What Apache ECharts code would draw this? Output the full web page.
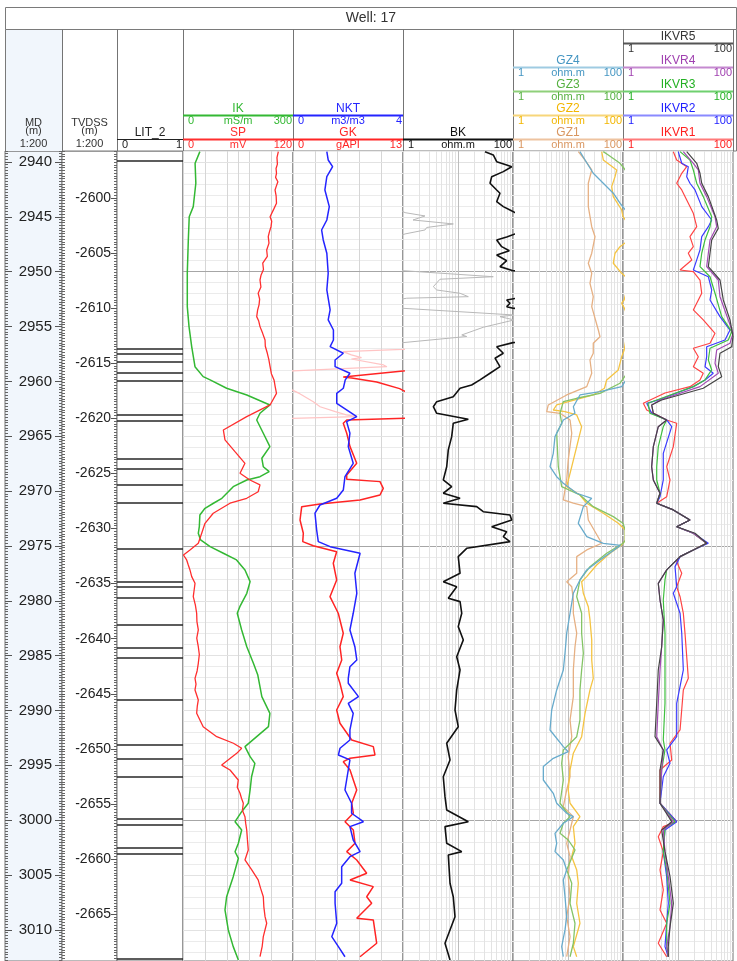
<!DOCTYPE html>
<html>
<head>
<meta charset="utf-8">
<title>Well: 17</title>
<script src="https://cdn.jsdelivr.net/npm/echarts@6/dist/echarts.min.js"></script>
<style>
  html, body { margin: 0; padding: 0; background: #fff; }
  #chart { width: 737px; height: 961px; }
</style>
</head>
<body>
<div id="chart"></div>
<script>
// depth axis (MD, m) and TVDSS
const MD_MIN = 2939, MD_MAX = 3012.84;
const TVD_MIN = -2669.25, TVD_MAX = -2595.75;
const mdLabels = [2940, 2945, 2950, 2955, 2960, 2965, 2970, 2975, 2980, 2985, 2990, 2995, 3000, 3005, 3010];
const tvdLabels = [-2600, -2605, -2610, -2615, -2620, -2625, -2630, -2635, -2640, -2645, -2650, -2655, -2660, -2665];
const depthLines25 = [2950, 2975, 3000];
const depthLines5 = [2940, 2945, 2955, 2960, 2965, 2970, 2980, 2985, 2990, 2995, 3005, 3010];
const logMinor = [2, 3, 4, 5, 6, 7, 8, 9, 20, 30, 40, 50, 60, 70, 80, 90];

// LIT_2 boundaries (MD)
const litBounds = [2939.91, 2957.05, 2957.50, 2958.23, 2959.23, 2959.96, 2963.06, 2963.61, 2967.07, 2967.98,
  2969.44, 2971.09, 2975.23, 2978.24, 2978.74, 2979.75, 2982.21, 2984.31, 2985.22, 2989.05, 2993.10,
  2994.38, 2996.07, 2999.89, 3000.44, 3002.56, 3003.08, 3012.66];

// curves: [MD, value]
const IK = [[2939.06,46],[2940.12,33],[2941.94,35],[2944.07,28],[2944.99,17],[2947.11,14.5],[2950.12,11.7],[2953.19,11.7],[2955.01,16.4],[2956.84,23.7],[2958.66,32.7],[2959.57,55],[2959.87,74],[2960.63,119],[2961.24,174],[2962.15,237],[2962.91,210],[2963.52,201],[2964.73,219],[2965.95,237],[2967.01,215],[2967.78,219],[2968.23,235],[2968.69,210],[2968.99,174],[2969.60,137],[2970.66,106],[2971.11,83],[2971.57,60],[2972.18,46],[2973.25,44.5],[2973.85,41.7],[2974.46,48],[2975.07,74],[2975.67,110],[2976.28,146],[2977.19,169],[2978.26,183],[2979.32,174],[2980.54,155],[2981.14,148],[2982.66,160],[2984.19,174],[2985.70,192],[2986.77,204],[2988.74,215],[2990.26,237],[2991.48,233],[2992.39,201],[2993.30,169],[2994.21,183],[2994.82,196],[2996.04,187],[2997.25,183],[2998.46,178],[2999.23,160],[3000.14,142],[3000.90,160],[3002.11,151],[3002.88,142],[3003.48,151],[3005.15,137],[3006.98,119],[3008.19,114.5],[3010.01,123.5],[3011.53,137],[3012.75,151]];
const SP = [[2939.06,104],[2939.6,102.5],[2940.2,103],[2940.6,101.5],[2941.03,102],[2941.4,101],[2941.8,103.5],[2942.2,101.8],[2942.55,100.4],[2943.1,101.6],[2943.76,102],[2944.3,99],[2944.99,95],[2945.4,96.8],[2945.9,96],[2946.4,94.2],[2946.81,93],[2947.4,93.8],[2948.02,91.3],[2948.6,92],[2949.23,87],[2949.8,87.8],[2950.3,85.2],[2950.76,84],[2951.4,85],[2951.97,82],[2952.5,83.6],[2953.0,83],[2953.5,81.4],[2954.10,80.4],[2954.5,82.6],[2955.01,84],[2955.6,86.8],[2956.23,89.5],[2956.8,89.8],[2957.44,92],[2958.0,93.6],[2958.66,95],[2959.3,96.4],[2959.87,99.3],[2960.5,100.6],[2961.09,102],[2962.15,95],[2963.22,69.5],[2964.43,44],[2965.34,45.8],[2966.41,56.7],[2967.47,67.6],[2968.38,62.2],[2968.99,73],[2969.44,84],[2970.06,82],[2970.66,69.5],[2971.11,51.3],[2972.02,33],[2972.94,24],[2973.85,20.4],[2974.76,16.7],[2975.37,7.6],[2975.83,0.5],[2976.28,4],[2976.7,5.6],[2977.19,7.6],[2977.8,9.5],[2978.41,13.1],[2979.0,12.2],[2979.63,11.2],[2980.4,13.5],[2981.14,14.9],[2981.9,15.2],[2982.66,16.7],[2983.4,15],[2984.19,16.7],[2984.9,17.8],[2985.70,16.7],[2986.4,15.4],[2987.07,13.1],[2987.6,14.2],[2988.13,13.1],[2989.04,16.7],[2989.6,15.6],[2990.26,14.9],[2991.48,22],[2992.39,36.8],[2992.99,55],[2993.45,64],[2993.91,58.6],[2994.98,42.2],[2995.43,51.3],[2996.34,60.3],[2997.0,59.2],[2997.55,62.2],[2998.0,63.8],[2998.46,65.8],[2999.1,64.8],[2999.68,67.6],[3000.3,68.4],[3000.90,69.5],[3001.8,70.3],[3002.72,71.2],[3003.63,67.6],[3004.54,75],[3005.45,82],[3006.2,84.6],[3006.98,87.6],[3007.9,88.2],[3008.80,89.5],[3009.40,91.3],[3010.62,87.6],[3011.5,86.4],[3012.45,84]];
const NKT = [[2939.06,1.23],[2939.82,1.28],[2940.43,1.44],[2941.34,1.23],[2942.55,1.16],[2944.07,1.32],[2945.29,1.23],[2946.20,1.04],[2947.11,1.10],[2948.32,1.23],[2950.15,1.28],[2951.67,1.23],[2953.49,1.35],[2954.40,1.28],[2955.32,1.47],[2956.23,1.47],[2956.84,1.35],[2957.44,1.83],[2958.05,1.53],[2958.66,1.53],[2959.26,2.07],[2959.87,1.90],[2960.63,1.83],[2961.09,1.59],[2962.00,1.59],[2963.22,2.32],[2963.67,1.95],[2964.73,2.07],[2965.95,2.01],[2967.47,2.19],[2968.69,1.89],[2969.90,1.83],[2970.66,1.59],[2971.27,0.98],[2972.02,0.80],[2973.55,0.86],[2974.61,0.92],[2975.07,1.35],[2975.67,2.44],[2977.49,2.25],[2979.32,2.32],[2981.14,2.19],[2982.66,2.07],[2984.19,2.25],[2985.40,2.32],[2986.01,2.07],[2987.07,2.01],[2987.52,2.01],[2988.74,2.38],[2989.35,2.01],[2990.26,2.19],[2991.78,2.07],[2992.69,2.07],[2993.45,1.71],[2994.06,1.65],[2994.51,2.07],[2996.34,1.95],[2997.25,1.89],[2998.46,2.13],[2999.37,2.13],[3000.14,2.56],[3000.59,2.07],[3001.81,2.19],[3002.87,2.44],[3003.33,2.07],[3004.24,1.77],[3005.75,1.77],[3006.52,1.53],[3007.58,1.53],[3009.40,1.59],[3010.62,1.41],[3011.53,1.65],[3012.45,1.89]];
const GK = [[2939.06,30],[2956.96,30],[2957.09,26],[2957.29,18.9],[2957.59,19.9],[2957.84,21.1],[2957.96,19.9],[2958.50,23.7],[2958.66,24.1],[2959.05,13.0],[2959.60,5.94],[2959.69,6.94],[2960.06,9.89],[2960.66,12.6],[2960.82,13.0],[2961.12,13.8],[2961.85,15.4],[2962.31,16.2],[2962.76,18.0],[2963.06,19.3],[2963.22,20.5],[2963.52,6.35],[2963.82,5.94],[2964.73,6.35],[2965.95,6.74],[2967.47,7.53],[2968.53,6.35],[2968.93,6.35],[2969.14,10.28],[2969.75,10.67],[2970.36,10.28],[2970.81,7.92],[2971.18,3.19],[2971.42,1.03],[2972.64,0.83],[2973.85,1.22],[2974.61,1.15],[2974.98,2.40],[2975.53,5.16],[2976.58,4.76],[2978.10,5.16],[2979.63,4.37],[2981.14,5.35],[2982.96,5.94],[2984.19,5.55],[2985.40,5.76],[2986.61,5.16],[2987.52,5.55],[2988.74,5.94],[2989.96,5.16],[2991.17,5.55],[2992.69,6.94],[2993.30,9.49],[2994.06,9.69],[2994.36,6.74],[2994.67,5.94],[2995.43,6.74],[2996.34,7.13],[2997.25,7.53],[2998.46,6.94],[2999.37,7.13],[3000.14,6.15],[3000.90,7.13],[3002.11,7.33],[3002.87,6.35],[3003.63,7.53],[3004.84,8.71],[3005.45,6.74],[3006.06,9.49],[3006.98,8.71],[3007.58,9.30],[3008.95,7.53],[3009.10,9.49],[3011.22,9.89],[3012.45,7.92]];
const BK = [[2939.06,31],[2939.36,43.8],[2939.97,50.5],[2940.27,76.8],[2940.43,94.7],[2940.88,66.6],[2941.34,41],[2941.94,38.2],[2942.55,50.5],[2942.85,58],[2943.62,50.5],[2944.07,66.6],[2944.38,88.2],[2944.62,109],[2944.92,251],[2945.29,152],[2945.65,822],[2945.97,270],[2946.20,251],[2946.56,109],[2946.84,76.8],[2947.11,50.5],[2947.72,62.3],[2948.09,85.7],[2948.48,50.5],[2949.00,76.8],[2949.54,58],[2949.91,100],[2950.46,4380],[2950.69,470],[2951.37,356],[2951.67,410],[2951.97,1090],[2952.28,1540],[2952.42,117],[2952.58,76.8],[2952.88,88.2],[2953.19,76.8],[2953.34,100],[2953.95,10500],[2954.10,5800],[2954.40,10500],[2955.07,2880],[2955.77,1170],[2955.91,1440],[2956.47,100],[2956.84,50.5],[2957.44,66.6],[2957.89,47.1],[2958.66,58],[2959.26,38.2],[2959.87,25.1],[2960.33,17.7],[2960.63,10.9],[2961.40,8.2],[2961.85,4.1],[2962.31,3.56],[2962.91,4.1],[2963.46,15.4],[2963.82,8.2],[2965.04,7.68],[2966.25,6.66],[2967.78,6.23],[2968.99,5.4],[2969.60,7.68],[2970.20,5.4],[2970.66,10.9],[2971.11,5.4],[2971.42,21.9],[2971.88,28.8],[2972.18,88.2],[2972.64,94.7],[2973.25,41],[2973.70,76.8],[2974.16,66.6],[2974.61,88.2],[2975.22,14.4],[2975.98,10.1],[2977.49,10.9],[2978.26,5.4],[2978.72,9.47],[2979.77,6.66],[2980.08,10.9],[2981.14,11.7],[2982.36,10.1],[2983.57,12.5],[2985.10,9.47],[2986.31,10.9],[2988.13,9.47],[2989.96,8.82],[2991.48,10.1],[2992.99,6.23],[2994.51,7.16],[2996.04,5.4],[2997.86,5.8],[2999.07,6.23],[3000.14,15.4],[3000.59,5.8],[3002.11,6.23],[3002.87,11.7],[3003.17,6.66],[3005.75,7.16],[3006.98,8.2],[3008.80,8.82],[3011.22,5.8],[3012.75,7.16]];
const GZ1 = [[2939.06,15.4],[2939.82,20.4],[2940.73,27],[2941.94,23.4],[2944.07,23.4],[2945.90,27],[2946.81,31],[2948.32,27],[2949.23,23.4],[2950.15,27],[2951.06,25.1],[2952.28,28.8],[2953.19,27],[2955.32,35.6],[2955.93,38.2],[2956.53,28.8],[2957.44,28.8],[2958.05,25.1],[2959.26,27],[2960.48,21.9],[2961.24,9.47],[2962.15,4.38],[2962.76,4.1],[2962.91,7.16],[2963.52,10.9],[2964.73,11.7],[2967.17,10.1],[2968.99,9.47],[2970.81,8.22],[2971.11,12.5],[2971.42,21.9],[2972.64,23.4],[2974.76,41],[2975.37,21.9],[2975.98,14.4],[2977.49,14.4],[2978.26,9.47],[2978.72,11.7],[2979.93,12.5],[2981.14,12.5],[2982.96,14.4],[2984.19,13.4],[2986.31,12.5],[2988.74,12.5],[2990.87,10.9],[2992.39,11.7],[2994.21,10.1],[2996.04,10.9],[2997.25,9.47],[2998.77,8.22],[2999.68,12.5],[3000.90,10.9],[3002.11,9.47],[3003.33,10.9],[3005.15,10.1],[3006.98,10.9],[3008.80,9.47],[3010.62,10.9],[3012.45,9.47]];
const GZ2 = [[2939.06,41],[2939.82,43.8],[2940.73,76.8],[2941.34,71.6],[2942.25,62.3],[2943.16,66.6],[2944.38,94.7],[2944.99,100],[2945.74,130],[2947.11,130],[2947.72,88.2],[2948.32,71.6],[2949.23,66.6],[2950.15,94.7],[2950.76,130],[2952.58,105],[2952.88,94.7],[2953.30,105],[2954.40,130],[2957.14,105],[2957.75,94.7],[2958.96,82.2],[2959.87,50.5],[2960.63,46],[2961.24,28.8],[2962.15,6.23],[2962.61,5.4],[2962.76,8.82],[2963.06,14.4],[2964.13,17.7],[2965.95,14.4],[2967.78,11.7],[2969.60,9.47],[2970.36,16.5],[2971.11,21.9],[2972.02,43.8],[2972.94,82.2],[2973.55,110],[2974.50,110],[2974.91,94.7],[2975.67,58],[2976.74,33.2],[2977.80,21.9],[2978.26,17.7],[2979.32,19],[2980.54,23.4],[2981.75,25.1],[2983.57,27],[2985.40,27],[2987.07,28.8],[2988.13,25.1],[2990.26,20.4],[2992.39,17.7],[2993.90,12.5],[2995.43,10.9],[2997.25,10.1],[2998.46,10.9],[2999.68,16.5],[3000.59,12.5],[3002.11,13.4],[3003.33,11.7],[3004.54,14.4],[3005.75,15.4],[3007.58,14.4],[3009.40,16.5],[3011.53,12.5],[3012.45,14.4]];
const GZ3 = [[2939.06,43.8],[2939.36,54],[2940.12,88.2],[2940.46,100],[2941.20,130],[2958.96,130],[2960.17,88.2],[2961.09,38.2],[2961.54,14.4],[2961.85,8.22],[2962.91,7.16],[2963.82,7.68],[2964.73,6.23],[2967.78,6.66],[2969.60,7.68],[2970.36,16.5],[2971.42,28.8],[2972.33,66.6],[2972.94,100],[2973.55,110],[2974.50,110],[2974.76,100],[2975.67,50.5],[2976.89,25.1],[2978.10,16.5],[2979.63,14.4],[2981.14,17.7],[2982.96,17.7],[2984.79,19],[2986.31,17.7],[2988.13,16.5],[2990.87,16.5],[2992.39,14.4],[2993.60,8.22],[2994.82,7.68],[2996.34,8.22],[2998.46,7.16],[2999.68,10.9],[3000.28,8.22],[3001.20,7.16],[3001.81,10.1],[3002.72,13.4],[3004.54,9.47],[3005.75,11.7],[3007.58,10.9],[3009.40,13.4],[3011.22,12.5],[3012.45,10.9]];
const GZ4 = [[2939.06,16.5],[2939.82,20.4],[2941.03,28.8],[2941.94,43.8],[2942.85,66.6],[2943.76,88.2],[2944.10,100],[2944.83,130],[2959.42,130],[2960.48,94.7],[2960.94,38.2],[2961.24,16.5],[2962.31,12.5],[2962.91,13.4],[2963.52,8.22],[2965.04,5.8],[2966.56,5.4],[2967.78,4.71],[2968.69,6.23],[2969.29,8.22],[2970.20,14.4],[2970.66,27],[2971.42,19],[2972.94,15.4],[2974.16,21.9],[2974.76,43.8],[2974.95,90],[2976.28,38.2],[2977.19,21.9],[2978.10,16.5],[2979.32,12.5],[2981.14,10.9],[2982.96,9.47],[2984.79,8.82],[2986.31,8.22],[2988.13,6.23],[2989.96,5.05],[2991.78,4.71],[2993.30,8.22],[2993.76,10.1],[2994.36,5.4],[2995.12,3.56],[2996.34,3.56],[2997.55,5.4],[2998.46,6.23],[2999.37,9.47],[2999.68,12.5],[3000.28,8.22],[3001.20,5.8],[3002.11,6.23],[3002.87,5.8],[3003.63,8.22],[3004.54,9.47],[3005.45,8.22],[3006.98,8.82],[3008.80,9.47],[3010.01,8.82],[3011.53,7.68],[3012.45,8.22]];
const IKVR1 = [[2939.06,8.22],[2939.82,9.47],[2940.43,14.4],[2941.03,11.7],[2941.94,9.47],[2942.55,11.7],[2943.46,14.4],[2944.68,19],[2945.90,21.9],[2946.81,16.5],[2947.72,19],[2948.32,15.4],[2948.93,17.8],[2949.85,10.9],[2950.00,19],[2950.76,25.1],[2951.97,27],[2953.49,19],[2954.40,28.8],[2955.62,47.1],[2956.53,38.2],[2956.98,19],[2957.75,23.4],[2958.66,19],[2959.26,28.8],[2959.87,25.1],[2960.48,16.5],[2961.06,5.8],[2962.00,2.34],[2962.61,2.7],[2963.52,6.23],[2963.82,9.47],[2965.95,8.22],[2967.78,6.23],[2968.99,7.16],[2970.51,6.23],[2971.11,4.1],[2971.72,8.22],[2972.64,16.5],[2973.25,9.47],[2973.85,19],[2974.76,33.2],[2975.37,19],[2975.98,10.9],[2976.44,9.47],[2977.49,11.7],[2978.72,9.47],[2979.63,10.9],[2981.14,12.5],[2982.96,13.4],[2987.07,15.4],[2988.13,12.5],[2991.78,10.9],[2992.99,7.16],[2994.51,7.68],[2995.43,4.71],[2998.46,4.71],[3000.14,9.47],[3000.59,5.4],[3001.51,4.38],[3002.87,5.4],[3004.54,4.71],[3006.36,5.4],[3008.19,4.71],[3009.40,6.23],[3011.22,4.38],[3012.45,6.23]];
const IKVR2 = [[2939.06,10.1],[2940.12,11.7],[2940.43,15.4],[2941.34,14.4],[2941.94,16.5],[2942.55,20.4],[2944.07,27],[2945.29,41],[2945.90,35.6],[2946.81,27],[2948.02,25.1],[2948.93,21.9],[2949.85,19],[2950.46,35.6],[2951.67,41],[2952.58,38.2],[2954.10,58],[2955.32,88.2],[2956.23,71.6],[2956.84,33.2],[2957.75,33.2],[2958.66,31],[2959.26,43.8],[2959.87,31],[2960.48,19],[2961.70,4.38],[2962.00,2.7],[2962.91,3.32],[2963.52,6.23],[2964.13,7.68],[2966.56,5.4],[2968.99,5.4],[2970.51,4.71],[2971.11,4.1],[2971.72,8.22],[2972.64,16.5],[2973.25,9.47],[2973.85,19],[2974.76,35.6],[2975.37,19],[2975.98,10.9],[2976.89,8.82],[2978.72,9.47],[2979.32,8.22],[2981.14,10.9],[2982.96,11.7],[2986.31,12.5],[2989.35,9.47],[2992.39,9.47],[2993.60,6.23],[2994.82,7.16],[2996.04,5.4],[2998.46,4.71],[3000.14,9.47],[3000.90,5.8],[3002.87,5.4],[3005.15,6.23],[3007.58,6.66],[3009.40,6.23],[3011.53,5.8],[3012.45,6.66]];
const IKVR3 = [[2939.06,10.9],[2939.82,16.5],[2940.73,19],[2941.94,21.9],[2943.16,28.8],[2944.99,41],[2945.90,38.2],[2947.11,31],[2948.32,27],[2949.54,25.1],[2950.46,38.2],[2951.97,47.1],[2954.10,62.3],[2955.47,94.7],[2956.23,82.2],[2956.98,38.2],[2958.05,35.6],[2958.96,41],[2959.87,31],[2960.48,19],[2961.70,4.1],[2962.00,2.85],[2962.91,3.09],[2963.52,6.23],[2964.13,5.4],[2965.95,4.38],[2967.78,4.1],[2968.99,4.1],[2970.20,4.71],[2971.11,4.1],[2971.72,8.22],[2972.64,16.5],[2973.25,9.47],[2973.85,19],[2974.76,33.2],[2975.37,19],[2975.98,10.9],[2977.19,6.23],[2978.10,5.8],[2979.93,5.4],[2982.96,5.8],[2986.31,5.8],[2989.35,5.8],[2992.69,5.4],[2993.60,5.8],[2995.43,5.05],[2998.46,4.71],[3000.14,8.82],[3000.74,5.8],[3002.87,5.4],[3004.54,6.23],[3007.58,7.16],[3009.40,6.23],[3011.53,6.23],[3012.45,6.66]];
const IKVR4 = [[2939.06,12.5],[2940.12,19],[2940.73,23.4],[2941.94,25.1],[2943.16,33.2],[2944.99,47.1],[2945.90,50.5],[2947.11,38.2],[2948.32,35.6],[2949.54,33.2],[2950.76,54],[2952.28,58],[2954.40,82.2],[2955.62,100],[2956.53,88.2],[2957.14,50.5],[2958.35,47.1],[2959.26,54],[2960.48,25.1],[2961.70,4.71],[2962.15,3.32],[2962.91,3.56],[2963.52,6.23],[2964.13,4.38],[2965.95,3.56],[2967.78,3.32],[2968.99,3.56],[2970.20,4.71],[2971.11,4.1],[2971.72,8.22],[2972.64,16.5],[2973.25,9.47],[2973.85,19],[2974.76,33.2],[2975.37,19],[2975.98,10.9],[2977.19,6.23],[2978.41,4.38],[2979.93,4.71],[2981.75,5.4],[2984.19,5.05],[2986.31,4.71],[2989.35,4.38],[2992.39,4.1],[2993.60,5.4],[2995.43,5.05],[2998.46,4.71],[3000.14,8.22],[3000.90,5.4],[3002.87,5.8],[3005.15,6.66],[3007.58,7.68],[3009.70,7.16],[3011.53,6.23],[3012.45,6.66]];
const IKVR5 = [[2939.06,14.4],[2940.12,21.9],[2941.03,25.1],[2941.94,27],[2943.16,35.6],[2945.29,50.5],[2946.05,54],[2947.11,41],[2948.32,38.2],[2949.54,35.6],[2950.76,58],[2952.58,66.6],[2954.40,88.2],[2955.93,100],[2956.84,94.7],[2957.44,58],[2958.66,54],[2959.57,62.3],[2960.63,28.8],[2961.70,5.05],[2962.15,3.32],[2962.91,3.56],[2963.52,6.23],[2964.13,4.38],[2965.95,3.56],[2967.78,3.32],[2968.99,3.56],[2970.20,4.71],[2971.11,4.1],[2971.72,8.22],[2972.64,16.5],[2973.25,9.47],[2973.85,20.4],[2974.76,33.2],[2975.37,19],[2975.98,10.9],[2977.19,6.23],[2978.41,4.38],[2979.93,4.71],[2981.75,5.4],[2984.19,5.05],[2986.31,4.38],[2989.35,4.1],[2992.39,3.82],[2993.60,5.4],[2995.43,4.71],[2998.46,4.71],[3000.14,7.68],[3000.90,5.05],[3002.87,5.8],[3005.15,7.16],[3007.58,8.22],[3009.70,7.16],[3011.53,6.66],[3012.45,6.66]];

const FONT = '"Liberation Sans", Arial, sans-serif';
const C = {
  ik: '#33b833', sp: '#ff2e2e', nkt: '#2424ff', gk: '#ff2424', gkw: '#ffc4c4',
  bk: '#111111', bkhi: '#b8b8b8',
  gz1: '#e6b083', gz2: '#f5c443', gz3: '#84c466', gz4: '#68abcc',
  r1: '#ff4545', r2: '#3b3bff', r3: '#3fbf3f', r4: '#a24bb3', r5: '#454545'
};

// track layout
const TOP = 151, HGT = 810;
const tracks = [
  { id: 'md', left: 5, width: 57 },
  { id: 'tvd', left: 62, width: 55 },
  { id: 'lit', left: 117, width: 66 },
  { id: 'iksp', left: 183, width: 110 },
  { id: 'nkt', left: 293, width: 110 },
  { id: 'bk', left: 403, width: 110 },
  { id: 'gz', left: 513, width: 110 },
  { id: 'ikvr', left: 623, width: 110 }
];

const grids = tracks.map(t => ({
  left: t.left, top: TOP, width: t.width, height: HGT,
  show: true, borderColor: '#747474', borderWidth: 1,
  backgroundColor: t.id === 'md' ? '#f1f6fc' : '#ffffff'
}));

const xAxes = [], yAxes = [];
function addX(gi, o) {
  xAxes.push(Object.assign({
    gridIndex: gi, type: 'value',
    axisLine: { show: false, onZero: false }, axisTick: { show: false },
    axisLabel: { show: false }, splitLine: { show: false }
  }, o));
  return xAxes.length - 1;
}
function addY(gi, o) {
  yAxes.push(Object.assign({
    gridIndex: gi, type: 'value',
    axisLine: { show: false, onZero: false }, axisTick: { show: false },
    axisLabel: { show: false }, splitLine: { show: false }
  }, o));
  return yAxes.length - 1;
}
const mdScale = { inverse: true, min: MD_MIN, max: MD_MAX };
const tvdScale = { min: TVD_MIN, max: TVD_MAX };
const tick = (len, vals) => ({ show: true, inside: true, length: len, lineStyle: { color: '#555', width: 1 }, customValues: vals });
const plain = v => String(v);

// MD scale track
addX(0, { min: 0, max: 1 });
['right', 'left'].forEach(pos => {
  addY(0, Object.assign({ position: pos, interval: 0.25, axisTick: { show: true, inside: true, length: 3, lineStyle: { color: '#666' } } }, mdScale));
  addY(0, Object.assign({ position: pos, axisTick: tick(7, mdLabels),
    axisLabel: pos === 'right' ? { show: true, inside: true, customValues: mdLabels, formatter: plain, margin: 10, fontSize: 15, color: '#222', fontFamily: FONT } : { show: false } }, mdScale));
});
// TVDSS track
addX(1, { min: 0, max: 1 });
['right', 'left'].forEach(pos => {
  addY(1, Object.assign({ position: pos, interval: 0.25, axisTick: { show: true, inside: true, length: 3, lineStyle: { color: '#666' } } }, tvdScale));
  addY(1, Object.assign({ position: pos, axisTick: tick(pos === 'right' ? 6 : 3, tvdLabels),
    axisLabel: pos === 'right' ? { show: true, inside: true, customValues: tvdLabels, formatter: plain, margin: 6, fontSize: 14, color: '#222', fontFamily: FONT } : { show: false } }, tvdScale));
});

// LIT_2
const xLit = addX(2, { min: 0, max: 1 });
const yLit = addY(2, mdScale);

const depthY = gi => addY(gi, Object.assign({ interval: 1, splitLine: { show: true, lineStyle: { color: '#ebebeb', width: 1 } } }, mdScale));
const vGrid = { show: true, lineStyle: { color: '#d6d6d6', width: 1 } };

const xIK = addX(3, { min: 0, max: 300, interval: 60, splitLine: vGrid });
const xSP = addX(3, { min: 0, max: 120 });
const yIK = depthY(3);
const xNKT = addX(4, { min: 0, max: 4, interval: 0.8, splitLine: vGrid });
const xGK = addX(4, { min: 0, max: 13 });
const xGKW = addX(4, { min: 13, max: 26 });
const yNKT = depthY(4);
const xBK = addX(5, { type: 'log', logBase: 10, min: 1, max: 100 });
const xBKH = addX(5, { type: 'log', logBase: 10, min: 100, max: 10000 });
const yBK = depthY(5);
const xGZ = addX(6, { type: 'log', logBase: 10, min: 1, max: 100 });
const yGZ = depthY(6);
const xIKVR = addX(7, { type: 'log', logBase: 10, min: 1, max: 100 });
const yIKVR = depthY(7);

// grid lines drawn as mark lines, kept under the curves
function rules(xi, yi, items, z) {
  return {
    type: 'line', data: [], xAxisIndex: xi, yAxisIndex: yi, silent: true, z: z || 1,
    markLine: { z: z || 1, silent: true, symbol: ['none', 'none'], label: { show: false }, animation: false, data: items }
  };
}
const lineAt = (key, v, color, width) => ({ [key]: v, lineStyle: { color: color, width: width, type: 'solid' } });
function depthRules(xi, yi) {
  return rules(xi, yi, depthLines5.map(d => lineAt('yAxis', d, '#e2e2e2', 1))
    .concat(depthLines25.map(d => lineAt('yAxis', d, '#a6a6a6', 1))));
}
function logRules(xi, yi) {
  return rules(xi, yi, logMinor.map(v => lineAt('xAxis', v, '#e3e3e3', 1)).concat([lineAt('xAxis', 10, '#bdbdbd', 1)]));
}
function curve(data, xi, yi, color, width, z) {
  return {
    type: 'line', data: data.map(p => [p[1], p[0]]), xAxisIndex: xi, yAxisIndex: yi,
    symbol: 'none', showSymbol: false, clip: true, silent: true, z: z || 4,
    lineStyle: { color: color, width: width }, itemStyle: { color: color }
  };
}

const series = [
  rules(xLit, yLit, litBounds.map(d => lineAt('yAxis', d, '#262626', 1.6)), 2),
  depthRules(xIK, yIK), rules(xIK, yIK, [lineAt('xAxis', 150, '#d6d6d6', 1)]),
  depthRules(xNKT, yNKT),
  depthRules(xBK, yBK), logRules(xBK, yBK),
  depthRules(xGZ, yGZ), logRules(xGZ, yGZ),
  depthRules(xIKVR, yIKVR), logRules(xIKVR, yIKVR),
  curve(IK, xIK, yIK, C.ik, 1.5),
  curve(SP, xSP, yIK, C.sp, 1.3),
  curve(GK, xGKW, yNKT, C.gkw, 1.2, 3),
  curve(GK, xGK, yNKT, C.gk, 1.5),
  curve(NKT, xNKT, yNKT, C.nkt, 1.5, 5),
  curve(BK, xBKH, yBK, C.bkhi, 1, 3),
  curve(BK, xBK, yBK, C.bk, 1.6),
  curve(GZ1, xGZ, yGZ, C.gz1, 1.3),
  curve(GZ2, xGZ, yGZ, C.gz2, 1.3),
  curve(GZ3, xGZ, yGZ, C.gz3, 1.3),
  curve(GZ4, xGZ, yGZ, C.gz4, 1.3),
  curve(IKVR1, xIKVR, yIKVR, C.r1, 1.2),
  curve(IKVR2, xIKVR, yIKVR, C.r2, 1.2),
  curve(IKVR3, xIKVR, yIKVR, C.r3, 1.2),
  curve(IKVR4, xIKVR, yIKVR, C.r4, 1.2),
  curve(IKVR5, xIKVR, yIKVR, C.r5, 1.2)
];

// header
const headers = [
  { t: 2, row: 0, name: 'LIT_2', unit: '', lo: '0', hi: '1', color: '#222', rule: '#222', rw: 1 },
  { t: 3, row: 1, name: 'IK', unit: 'mS/m', lo: '0', hi: '300', color: C.ik },
  { t: 3, row: 0, name: 'SP', unit: 'mV', lo: '0', hi: '120', color: C.sp },
  { t: 4, row: 1, name: 'NKT', unit: 'm3/m3', lo: '0', hi: '4', color: C.nkt },
  { t: 4, row: 0, name: 'GK', unit: 'gAPI', lo: '0', hi: '13', color: C.gk },
  { t: 5, row: 0, name: 'BK', unit: 'ohm.m', lo: '1', hi: '100', color: '#111' },
  { t: 6, row: 3, name: 'GZ4', unit: 'ohm.m', lo: '1', hi: '100', color: '#4596c2', rule: '#9fcbe2' },
  { t: 6, row: 2, name: 'GZ3', unit: 'ohm.m', lo: '1', hi: '100', color: '#55b040', rule: '#8fd07a' },
  { t: 6, row: 1, name: 'GZ2', unit: 'ohm.m', lo: '1', hi: '100', color: '#f2b600', rule: '#f7d67a' },
  { t: 6, row: 0, name: 'GZ1', unit: 'ohm.m', lo: '1', hi: '100', color: '#d99660', rule: '#eec3a0' },
  { t: 7, row: 4, name: 'IKVR5', unit: '', lo: '1', hi: '100', color: '#333', rule: '#555' },
  { t: 7, row: 3, name: 'IKVR4', unit: '', lo: '1', hi: '100', color: '#a040b0', rule: '#c58ad0' },
  { t: 7, row: 2, name: 'IKVR3', unit: '', lo: '1', hi: '100', color: '#22b022', rule: '#6fd06f' },
  { t: 7, row: 1, name: 'IKVR2', unit: '', lo: '1', hi: '100', color: '#2020ff', rule: '#8a8aff' },
  { t: 7, row: 0, name: 'IKVR1', unit: '', lo: '1', hi: '100', color: '#ff2020', rule: '#ff7a7a' }
];

const txt = (x, y, s, color, size, align) => ({
  type: 'text', x: x, y: y, silent: true,
  style: { text: s, fill: color, font: size + 'px ' + FONT, align: align || 'center', verticalAlign: 'middle' }
});
const hline = (x1, x2, y, color, w) => ({ type: 'line', silent: true, shape: { x1: x1, y1: y, x2: x2, y2: y }, style: { stroke: color, lineWidth: w } });
const vline = (x, y1, y2, color) => ({ type: 'line', silent: true, shape: { x1: x, y1: y1, x2: x, y2: y2 }, style: { stroke: color, lineWidth: 1 } });

const graphic = [
  { type: 'rect', silent: true, shape: { x: 5.5, y: 7.5, width: 731, height: 22 }, style: { fill: '#fff', stroke: '#7a7a7a', lineWidth: 1 } },
  txt(371, 18.5, 'Well: 17', '#333', 14),
  { type: 'rect', silent: true, shape: { x: 5.5, y: 29.5, width: 731, height: 121.5 }, style: { fill: '#fff', stroke: '#7a7a7a', lineWidth: 1 } },
  { type: 'rect', silent: true, shape: { x: 6, y: 30, width: 56, height: 121 }, style: { fill: '#f1f6fc' } },
  txt(33.5, 123, 'MD', '#333', 11), txt(33.5, 130.5, '(m)', '#333', 11), txt(33.5, 144, '1:200', '#333', 11),
  txt(89.5, 123, 'TVDSS', '#333', 11), txt(89.5, 130.5, '(m)', '#333', 11), txt(89.5, 144, '1:200', '#333', 11)
];
tracks.forEach(t => graphic.push(vline(t.left + t.width + 0.5, 29.5, 151, '#747474')));
headers.forEach(h => {
  const t = tracks[h.t];
  const x0 = t.left, x1 = t.left + t.width, xc = (x0 + x1) / 2;
  const yN = 133 - 24 * h.row, yR = 139.5 - 24 * h.row, yS = 145 - 24 * h.row;
  graphic.push(txt(xc, yN, h.name, h.color, 12));
  graphic.push(hline(x0, x1, yR, h.rule || h.color, h.rw || 2));
  graphic.push(txt(x0 + 5, yS, h.lo, h.color, 11, 'left'));
  if (h.unit) graphic.push(txt(xc, yS, h.unit, h.color, 11));
  graphic.push(txt(x1 - 1, yS, h.hi, h.color, 11, 'right'));
});

const chart = echarts.init(document.getElementById('chart'), null, { renderer: 'canvas' });
chart.setOption({
  animation: false,
  backgroundColor: '#ffffff',
  textStyle: { fontFamily: FONT },
  grid: grids,
  xAxis: xAxes,
  yAxis: yAxes,
  series: series,
  graphic: graphic
});
</script>
</body>
</html>
